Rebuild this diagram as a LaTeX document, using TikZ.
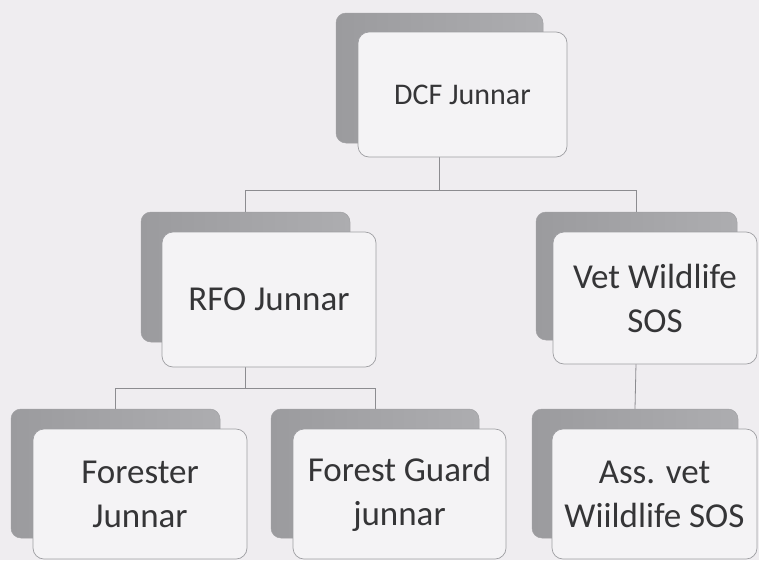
\documentclass[tikz,border=0pt]{standalone}
\usepackage{fontspec}
\setmainfont{Carlito}
\definecolor{bg}{HTML}{EFEDF0}
\definecolor{frontfill}{HTML}{F4F3F5}
\definecolor{frontedge}{HTML}{9E9EA2}
\definecolor{shadeL}{HTML}{9B9B9E}
\definecolor{shadeR}{HTML}{ADADB0}
\definecolor{shadeedge}{HTML}{A0A0A3}
\definecolor{connc}{HTML}{8C8C90}
\definecolor{txt}{HTML}{353537}
\begin{document}
\begin{tikzpicture}[x=1pt,y=-1pt,
  backbox/.style={left color=shadeL, right color=shadeR, draw=shadeedge, line width=0.5pt,
    rounded corners=10pt, inner sep=0pt},
  frontbox/.style={fill=frontfill, draw=frontedge, line width=0.7pt, rounded corners=11pt,
    inner sep=0pt, align=center, text=txt, font=\fontsize{35}{44}\selectfont},
  conn/.style={draw=connc, line width=0.8pt}]
\fill[bg] (0,0) rectangle (759,560);
\useasboundingbox (0,0) rectangle (759,560);

% back (shadow) boxes
\node[backbox, minimum width=207pt, minimum height=130pt] (dcfS) at (439.5,78) {};
\node[backbox, minimum width=209pt, minimum height=130pt] (rfoS) at (245.5,277) {};
\node[backbox, minimum width=201pt, minimum height=128pt] (vetS) at (636.5,276) {};
\node[backbox, minimum width=209pt, minimum height=129pt] (forS) at (115.5,473.5) {};
\node[backbox, minimum width=208pt, minimum height=129pt] (fgS) at (375,473.5) {};
\node[backbox, minimum width=206pt, minimum height=129pt] (avS) at (635,473.5) {};

% connectors
\coordinate (bus1) at (0,190);
\coordinate (bus2) at (0,388);
\draw[conn] (dcfS.south) -- (dcfS.south |- bus1) -| (rfoS.north);
\draw[conn] (dcfS.south |- bus1) -| (vetS.north);
\draw[conn] (rfoS.south) -- (rfoS.south |- bus2) -| (forS.north);
\draw[conn] (rfoS.south |- bus2) -| (fgS.north);
\draw[conn] (vetS.south) -- (avS.north);

% front boxes
\node[frontbox, minimum width=209pt, minimum height=125pt, font=\fontsize{30}{36}\selectfont] (dcf) at (462.5,94.5) {DCF Junnar};
\node[frontbox, minimum width=214pt, minimum height=135pt] (rfo) at (269,299.5) {RFO Junnar};
\node[frontbox, minimum width=204pt, minimum height=132pt] (vet) at (655,298) {Vet Wildlife\\SOS};
\node[frontbox, minimum width=214pt, minimum height=130pt] (for) at (140,494) {Forester\\Junnar};
\node[frontbox, minimum width=213pt, minimum height=130pt] (fg) at (399.5,494) {Forest Guard\\junnar};
\node[frontbox, minimum width=205pt, minimum height=130pt] (av) at (654.5,494) {Ass. vet\\Wiildlife SOS};
\end{tikzpicture}
\end{document}
